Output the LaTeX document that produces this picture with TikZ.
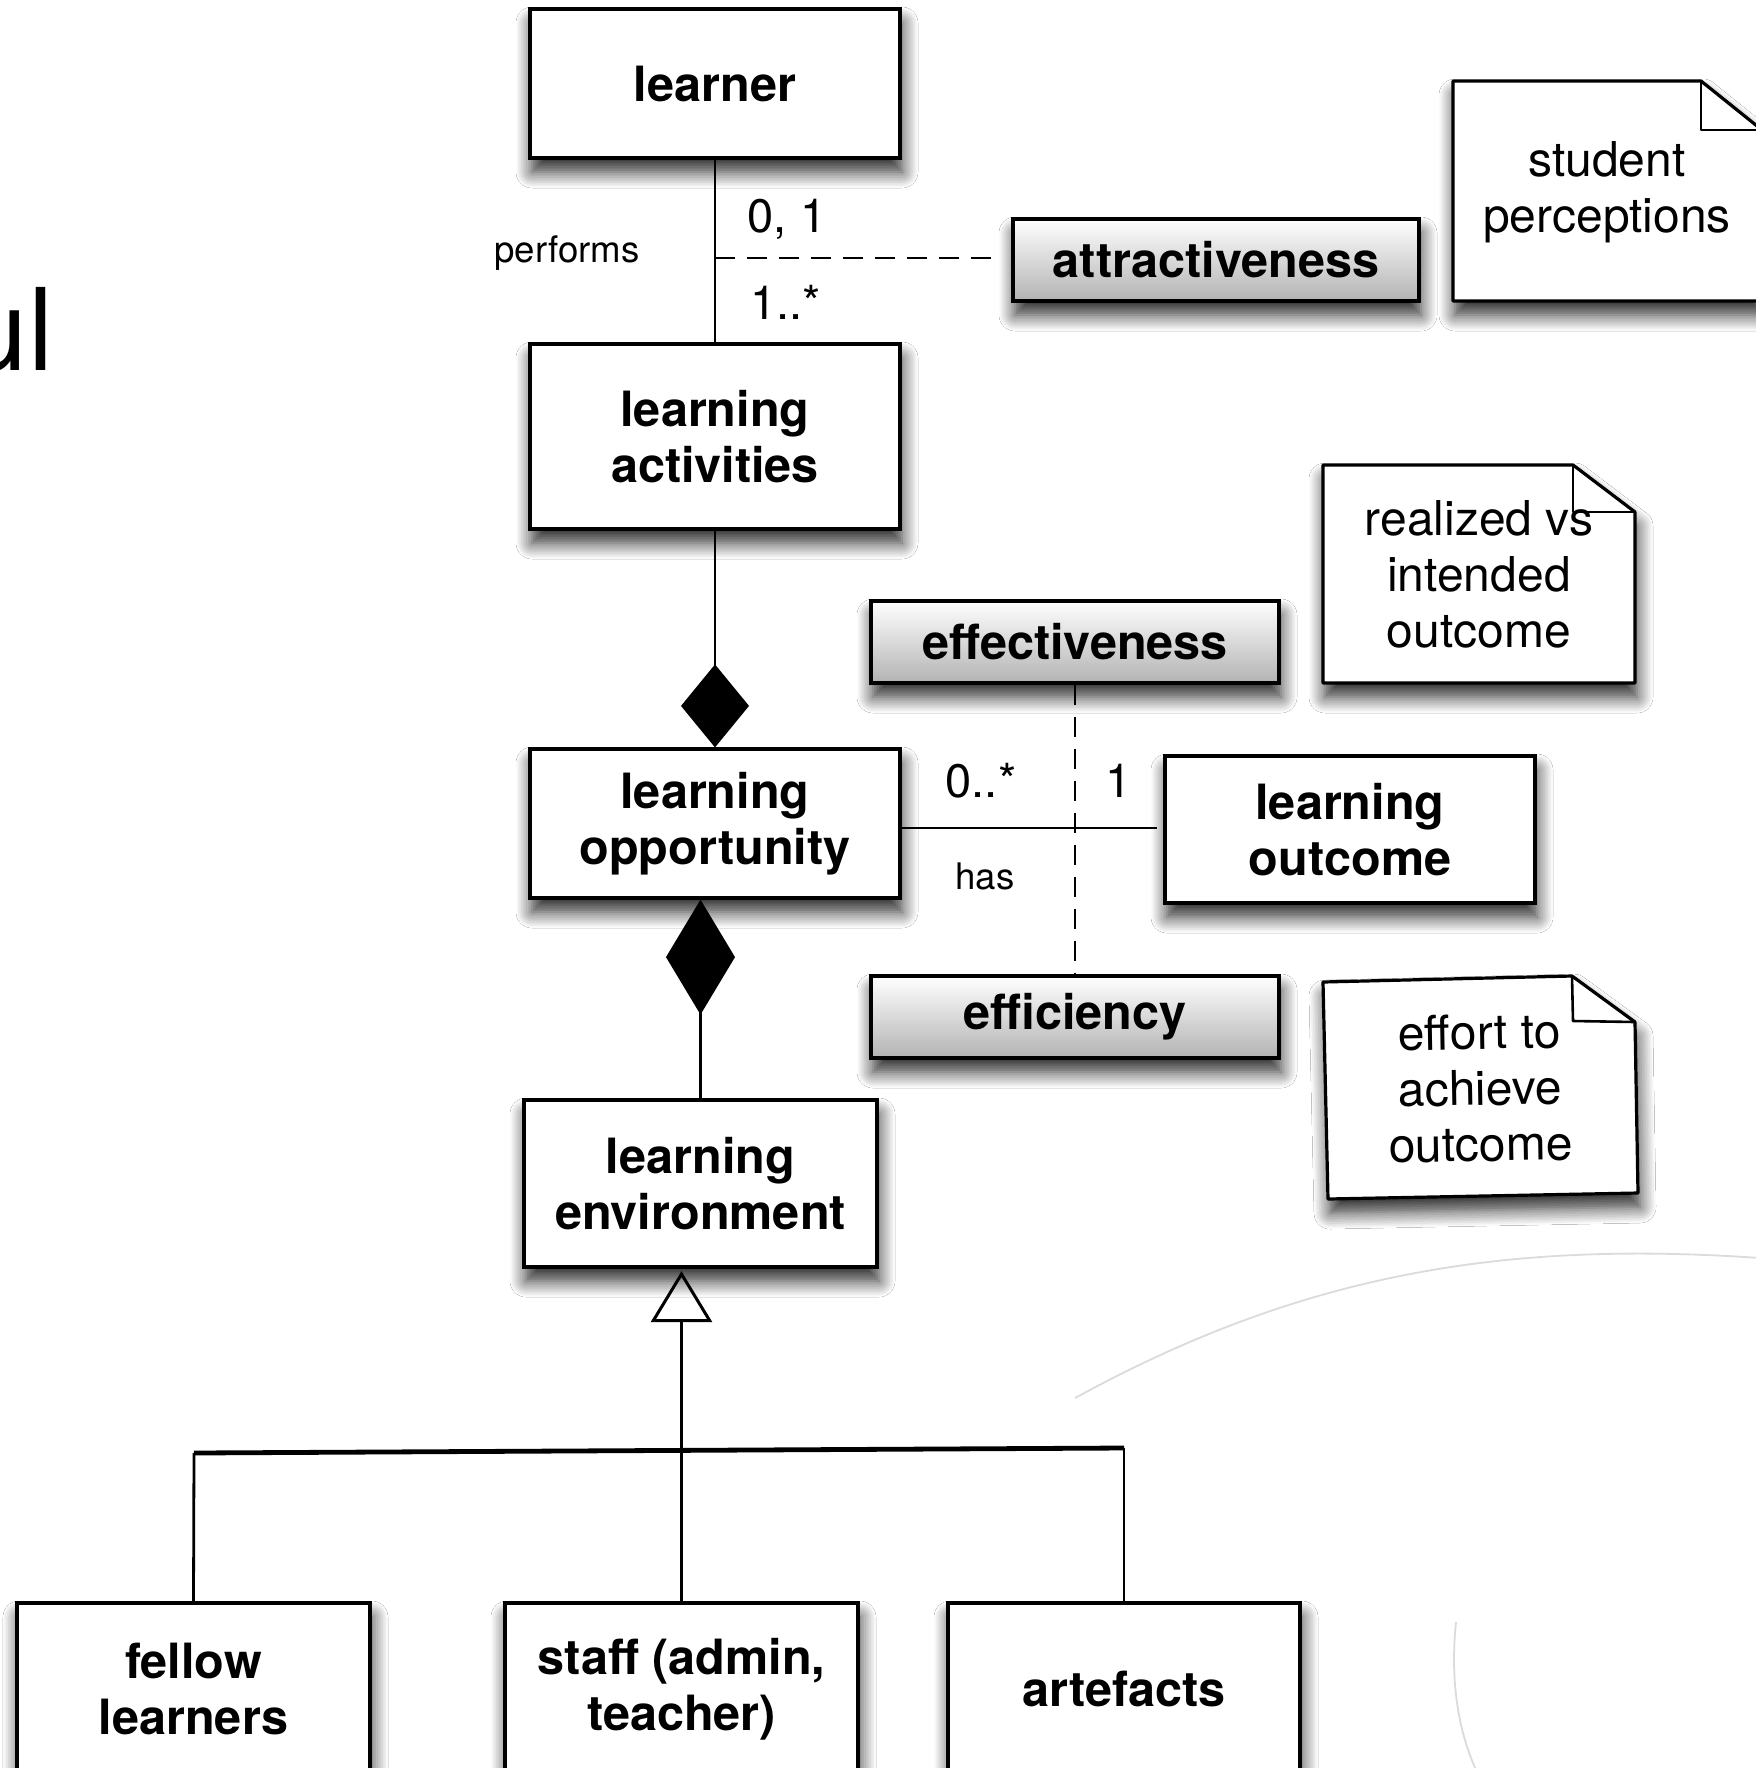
\documentclass[tikz,border=0pt]{standalone}
\usepackage{fontspec}
\setmainfont{TeX Gyre Heros}
\usetikzlibrary{arrows.meta,shadows.blur}
\begin{document}
\begin{tikzpicture}[x=0.5pt,y=-0.5pt,
  shad/.style={blur shadow={shadow xshift=1pt, shadow yshift=-7pt, shadow blur radius=8pt, shadow opacity=85, shadow blur steps=10}},
  umlbox/.style={draw, line width=1.6pt, fill=white, align=center, inner sep=0pt, shad,
     font=\bfseries\fontsize{24.3}{28}\selectfont},
  attrbox/.style={umlbox, top color=white, bottom color=black!30},
  conn/.style={line width=1.4pt},
  dashconn/.style={line width=1.4pt, dash pattern=on 10pt off 6pt},
  multlabel/.style={font=\fontsize{23.5}{28}\selectfont, inner sep=0pt},
  smalllabel/.style={font=\fontsize{18.3}{22}\selectfont, inner sep=0pt},
  notetext/.style={align=center, font=\fontsize{24}{28}\selectfont, inner sep=0pt},
  notebody/.style={draw, line width=1.6pt, fill=white, line join=round, shad},
  notefold/.style={draw, line width=1.3pt, line join=round},
  decoarc/.style={draw=black!14, line width=0.9pt},
  comptip/.style={-{Diamond[#1, color=black, fill=black]}}
]
\clip (0,0) rectangle (1756,1768);
\fill[white] (0,0) rectangle (1756,1768);

% faint background arcs
\draw[decoarc] (1075,1398) .. controls (1300,1275) and (1500,1240) .. (1760,1258);
\draw[decoarc] (1456,1622) .. controls (1450,1680) and (1458,1730) .. (1476,1770);

% left text fragment (cut off at the edge, as in the original)
\node[anchor=base east, inner sep=0pt, font=\fontsize{57}{60}\selectfont] (ul) at (54,370) {ul};

% notes
\path[notebody] (1453,81) -- (1701,81) -- (1762,130) -- (1762,301) -- (1453,301) -- cycle;
\draw[notefold] (1701,81) -- (1701,130) -- (1762,130);
\node[notetext] (np) at (1607,192) {student\\perceptions};

\path[notebody] (1323,465) -- (1573,465) -- (1635,512) -- (1635,683) -- (1323,683) -- cycle;
\draw[notefold] (1573,465) -- (1573,512) -- (1635,512);
\node[notetext] (nr) at (1479,574) {realized vs\\intended\\outcome};

\path[notebody] (1323,982) -- (1572,976) -- (1635,1022) -- (1638,1193) -- (1328,1199) -- cycle;
\draw[notefold] (1572,976) -- (1573,1021) -- (1635,1022);
\node[notetext, rotate=1] (ne) at (1480,1088) {effort to\\achieve\\outcome};

% class boxes
\node[umlbox, minimum width=185pt, minimum height=74.5pt] (learner) at (715,83.5) {learner};
\node[umlbox, minimum width=185pt, minimum height=92.5pt] (act) at (715,436.5) {learning\\activities};
\node[umlbox, minimum width=185pt, minimum height=74.5pt] (opp) at (715,823.5) {learning\\opportunity};
\node[umlbox, minimum width=176.5pt, minimum height=83.5pt] (env) at (700.5,1183.5) {learning\\environment};
\node[umlbox, minimum width=185pt, minimum height=73.5pt] (outc) at (1350,829.5) {learning\\outcome};
\node[umlbox, minimum width=176.5pt, minimum height=86pt] (fellow) at (193.5,1689) {fellow\\learners};
\node[umlbox, minimum width=176.5pt, minimum height=86pt] (staff) at (681.5,1689) {staff (admin,\\teacher)};
\node[umlbox, minimum width=176pt, minimum height=86pt] (arte) at (1124,1689) {artefacts};

% attribute boxes
\node[attrbox, minimum width=203pt, minimum height=41pt] (attr) at (1216,260) {attractiveness};
\node[attrbox, minimum width=204pt, minimum height=41pt] (effect) at (1075,642) {effectiveness};
\node[attrbox, minimum width=204pt, minimum height=41pt] (effic) at (1075,1017) {efficiency};

% association learner -- activities
\draw[conn] (learner.south) -- (act.north);
\coordinate (perfmid) at (715,258);
\draw[dashconn, shorten >=7pt] (perfmid) -- (perfmid -| attr.west);
\node[smalllabel] (perf) at (567,253) {performs};
\node[multlabel] (m01) at (787,219) {0, 1};
\node[multlabel] (m1s) at (786,302) {1..*};

% composition
\draw[conn, comptip={length=41.5pt, width=34pt}] (act.south) -- (opp.north);
\draw[conn, comptip={length=57.5pt, width=34.5pt}] (env.north) -- (env.north |- opp.south);

% association opportunity -- outcome
\draw[conn, shorten >=3pt] (opp.east |- 0,828) -- (outc.west |- 0,828);
\draw[dashconn] (effect.south) -- (effic.north);
\node[multlabel] (m0s) at (981,781) {0..*};
\node[multlabel] (m1) at (1119,781) {1};
\node[smalllabel] (has) at (985,876) {has};

% generalization
\coordinate (barL) at (194,1453);
\coordinate (barR) at (1124,1448);
\draw[conn, -{Triangle[open, length=25.5pt, width=30.5pt, line width=1.5pt]}] (staff.north) -- ($(staff.north |- env.south)+(0,2.5)$);
\draw[conn] (fellow.north) -- (barL);
\draw[line width=2.4pt] (barL) -- (barR);
\draw[conn] (barR) -- (arte.north);
\end{tikzpicture}
\end{document}
